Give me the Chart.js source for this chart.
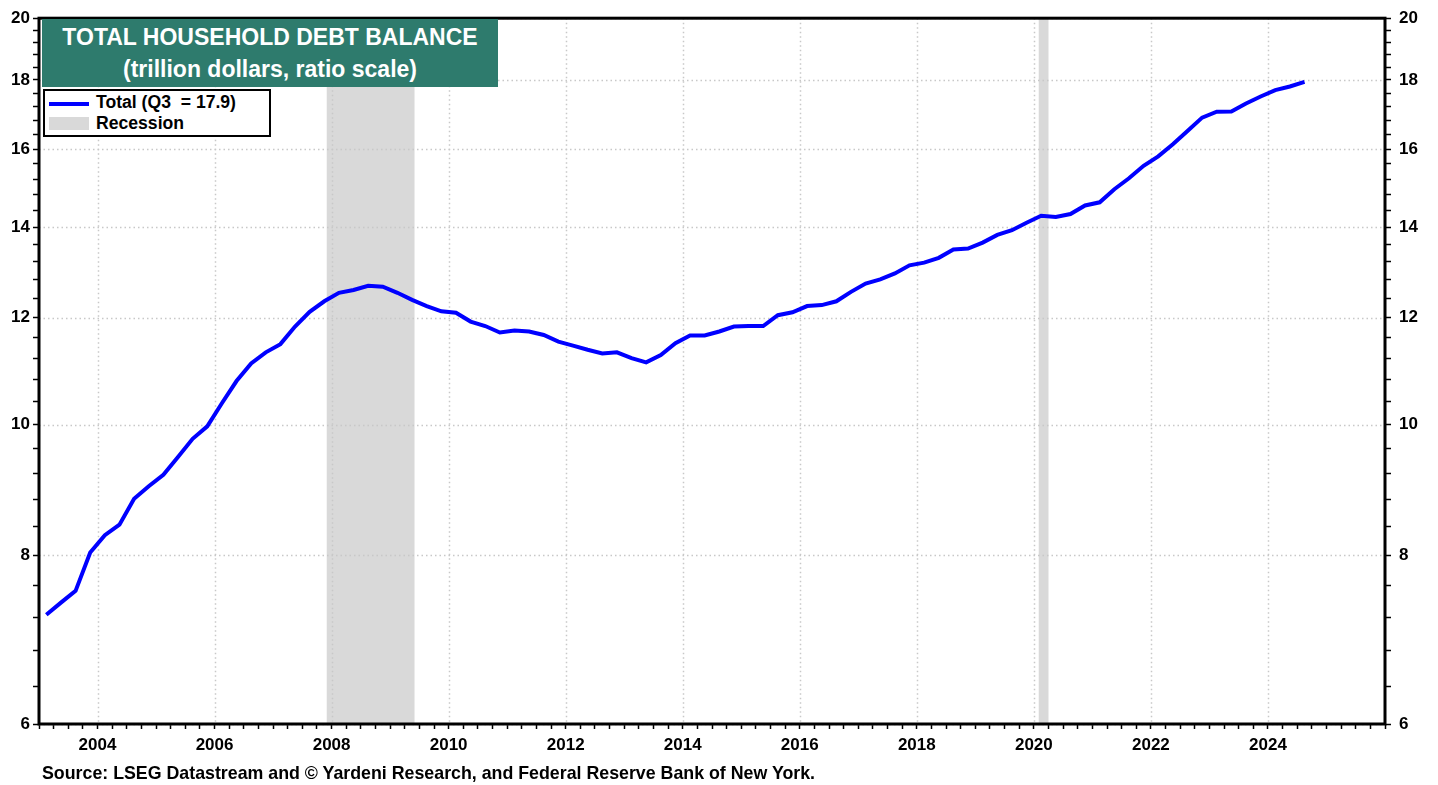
<!DOCTYPE html>
<html lang="en">
<head>
  <meta charset="UTF-8">
  <title>Total Household Debt Balance</title>
  <script src="https://cdn.jsdelivr.net/npm/chart.js"></script>
  <style>
    body { margin: 0; background: #ffffff; font-family: "Liberation Sans", Arial, sans-serif; }
    .wrap { position: relative; width: 1438px; height: 785px; }
    .title-box {
      position: absolute; left: 42px; top: 19px; width: 456px; height: 68px;
      background: #2e7b6d; color: #ffffff; font-weight: bold; font-size: 23px;
      text-align: center; line-height: 32px; padding-top: 2px; box-sizing: border-box;
    }
    .legend-box {
      position: absolute; left: 43px; top: 89px; width: 228px; height: 48px;
      background: #ffffff; border: 2px solid #000000; box-sizing: border-box;
      font-weight: bold; font-size: 17.6px;
    }
    .legend-row { position: absolute; left: 51px; line-height: 20px; }
    .legend-line { position: absolute; left: 4px; top: 11px; width: 40px; height: 4px; background: #0000ff; }
    .legend-band { position: absolute; left: 4px; top: 26px; width: 40px; height: 13px; background: #d9d9d9; }
    .source { position: absolute; left: 42px; top: 763px; font-weight: bold; font-size: 17.8px; }
  </style>
</head>
<body>
  <div class="wrap">
    <canvas id="debtChart"></canvas>
    <div class="title-box">TOTAL HOUSEHOLD DEBT BALANCE<br>(trillion dollars, ratio scale)</div>
    <div class="legend-box">
      <div class="legend-line"></div>
      <div class="legend-row" style="top:1px">Total (Q3&nbsp; = 17.9)</div>
      <div class="legend-band"></div>
      <div class="legend-row" style="top:22px">Recession</div>
    </div>
    <div class="source">Source: LSEG Datastream and © Yardeni Research, and Federal Reserve Bank of New York.</div>
  </div>

  <script>
    // quarters shown in the chart
    const quarters = [
      '2003Q1', '2003Q2', '2003Q3', '2003Q4',
      '2004Q1', '2004Q2', '2004Q3', '2004Q4',
      '2005Q1', '2005Q2', '2005Q3', '2005Q4',
      '2006Q1', '2006Q2', '2006Q3', '2006Q4',
      '2007Q1', '2007Q2', '2007Q3', '2007Q4',
      '2008Q1', '2008Q2', '2008Q3', '2008Q4',
      '2009Q1', '2009Q2', '2009Q3', '2009Q4',
      '2010Q1', '2010Q2', '2010Q3', '2010Q4',
      '2011Q1', '2011Q2', '2011Q3', '2011Q4',
      '2012Q1', '2012Q2', '2012Q3', '2012Q4',
      '2013Q1', '2013Q2', '2013Q3', '2013Q4',
      '2014Q1', '2014Q2', '2014Q3', '2014Q4',
      '2015Q1', '2015Q2', '2015Q3', '2015Q4',
      '2016Q1', '2016Q2', '2016Q3', '2016Q4',
      '2017Q1', '2017Q2', '2017Q3', '2017Q4',
      '2018Q1', '2018Q2', '2018Q3', '2018Q4',
      '2019Q1', '2019Q2', '2019Q3', '2019Q4',
      '2020Q1', '2020Q2', '2020Q3', '2020Q4',
      '2021Q1', '2021Q2', '2021Q3', '2021Q4',
      '2022Q1', '2022Q2', '2022Q3', '2022Q4',
      '2023Q1', '2023Q2', '2023Q3', '2023Q4',
      '2024Q1', '2024Q2', '2024Q3'
    ];

    // total household debt, trillion dollars
    const totalDebt = [
      7.23, 7.38, 7.53, 8.04,
      8.28, 8.43, 8.81, 9.00,
      9.18, 9.46, 9.76, 9.97,
      10.37, 10.77, 11.10, 11.31,
      11.47, 11.82, 12.12, 12.34,
      12.52, 12.58, 12.67, 12.65,
      12.52, 12.37, 12.24, 12.13,
      12.10, 11.92, 11.83, 11.70,
      11.74, 11.72, 11.65, 11.52,
      11.44, 11.36, 11.29, 11.31,
      11.20, 11.12, 11.26, 11.49,
      11.64, 11.64, 11.72, 11.82,
      11.83, 11.83, 12.05, 12.11,
      12.24, 12.26, 12.34, 12.54,
      12.72, 12.81, 12.94, 13.12,
      13.18, 13.29, 13.48, 13.50,
      13.64, 13.82, 13.93, 14.11,
      14.28, 14.25, 14.32, 14.53,
      14.61, 14.94, 15.22, 15.55,
      15.80, 16.13, 16.50, 16.88,
      17.05, 17.06, 17.29, 17.50,
      17.69, 17.80, 17.94
    ];

    // recessions (start month, end month)
    const recessions = [
      ['2007-12', '2009-06'],
      ['2020-02', '2020-04']
    ];

    const xLabelYears = [2004, 2006, 2008, 2010, 2012, 2014, 2016, 2018, 2020, 2022, 2024];
    const yLabelValues = [6, 8, 10, 12, 14, 16, 18, 20];

    const xMin = 2003, xMax = 2026;
    const yMin = 6, yMax = 20;

    function quarterToYear(q) {
      const year = parseInt(q.slice(0, 4), 10);
      const n = parseInt(q.slice(5), 10);
      return year + (n - 1) / 4 + 0.125;
    }
    function monthToYear(m) {
      const parts = m.split('-');
      return parseInt(parts[0], 10) + (parseInt(parts[1], 10) - 1) / 12;
    }

    // quarterly ticks on x, 0.4 steps on y
    const xTickValues = [];
    for (let v = xMin; v <= xMax + 0.001; v += 0.25) xTickValues.push(Math.round(v * 100) / 100);
    const yTickValues = [];
    for (let i = 0; yMin + i * 0.4 <= yMax + 0.001; i++) yTickValues.push(Math.round((yMin + i * 0.4) * 10) / 10);

    const tickFont = { family: '"Liberation Sans", Arial, sans-serif', size: 17, weight: 'bold' };

    const backgroundPlugin = {
      id: 'background',
      beforeDatasetsDraw(chart) {
        const ctx = chart.ctx;
        const area = chart.chartArea;
        const x = chart.scales.x;
        const y = chart.scales.y;
        ctx.save();
        // recession bands
        ctx.fillStyle = '#d9d9d9';
        recessions.forEach(function(r) {
          const x0 = x.getPixelForValue(monthToYear(r[0]));
          const x1 = x.getPixelForValue(monthToYear(r[1]));
          ctx.fillRect(x0, area.top, x1 - x0, area.bottom - area.top);
        });
        // dotted grid
        ctx.strokeStyle = '#c8c8c8';
        ctx.lineWidth = 1.5;
        ctx.setLineDash([1.5, 3]);
        xLabelYears.forEach(function(v) {
          const px = Math.round(x.getPixelForValue(v)) + 0.5;
          ctx.beginPath();
          ctx.moveTo(px, area.top);
          ctx.lineTo(px, area.bottom);
          ctx.stroke();
        });
        yLabelValues.forEach(function(v) {
          const py = Math.round(y.getPixelForValue(v)) + 0.5;
          ctx.beginPath();
          ctx.moveTo(area.left, py);
          ctx.lineTo(area.right, py);
          ctx.stroke();
        });
        ctx.restore();
      },
      afterDraw(chart) {
        const ctx = chart.ctx;
        const a = chart.chartArea;
        ctx.save();
        ctx.strokeStyle = '#000000';
        ctx.lineWidth = 3;
        ctx.strokeRect(a.left, a.top, a.right - a.left, a.bottom - a.top);
        ctx.restore();
      }
    };

    function yAxis(position, width, padding) {
      return {
        type: 'logarithmic',
        position: position,
        min: yMin,
        max: yMax,
        afterBuildTicks: function(scale) {
          scale.ticks = yTickValues.map(function(v) { return { value: v }; });
        },
        afterFit: function(scale) { scale.width = width; },
        grid: {
          drawOnChartArea: false,
          drawTicks: true,
          tickLength: 6,
          tickColor: '#000000',
          tickWidth: 1.5
        },
        border: { display: false },
        ticks: {
          autoSkip: false,
          color: '#000000',
          font: tickFont,
          padding: padding,
          callback: function(value) {
            return yLabelValues.indexOf(Math.round(value * 10) / 10) >= 0 ? String(Math.round(value)) : '';
          }
        }
      };
    }

    const ctx = document.getElementById('debtChart').getContext('2d');
    new Chart(ctx, {
      type: 'line',
      data: {
        datasets: [{
          label: 'Total (Q3  = 17.9)',
          data: quarters.map(function(q, i) { return { x: quarterToYear(q), y: totalDebt[i] }; }),
          borderColor: '#0000ff',
          borderWidth: 4,
          pointRadius: 0,
          tension: 0,
          fill: false,
          yAxisID: 'y'
        }]
      },
      options: {
        responsive: true,
        maintainAspectRatio: false,
        animation: false,
        layout: { padding: { top: 15, left: 0, right: 0, bottom: 0 } },
        plugins: {
          legend: { display: false },
          tooltip: { enabled: false }
        },
        scales: {
          x: {
            type: 'linear',
            min: xMin,
            max: xMax,
            afterBuildTicks: function(scale) {
              scale.ticks = xTickValues.map(function(v) { return { value: v }; });
            },
            afterFit: function(scale) { scale.height = 61; },
            grid: {
              drawOnChartArea: false,
              drawTicks: true,
              tickLength: 5,
              tickColor: '#000000',
              tickWidth: 1.5
            },
            border: { display: false },
            ticks: {
              autoSkip: false,
              maxRotation: 0,
              color: '#000000',
              font: tickFont,
              padding: 6,
              callback: function(value) {
                return xLabelYears.indexOf(value) >= 0 ? String(value) : '';
              }
            }
          },
          y: yAxis('left', 39, 3),
          y2: yAxis('right', 53, 8)
        }
      },
      plugins: [backgroundPlugin]
    });
  </script>
</body>
</html>
